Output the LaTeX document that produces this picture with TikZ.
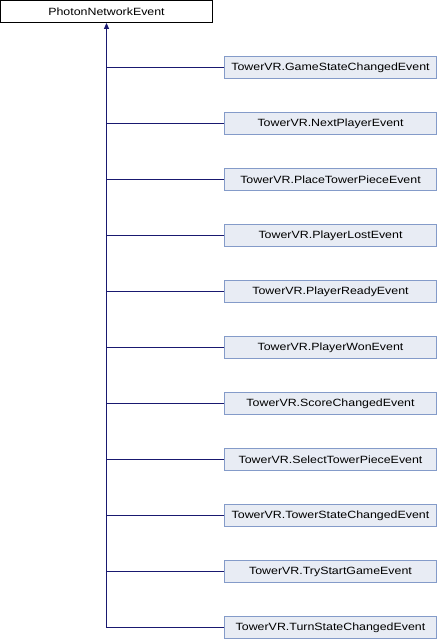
\documentclass[tikz,border=0pt]{standalone}
\usepackage{fontspec}
\setmainfont{Liberation Sans}[FakeStretch=1.18]
\usetikzlibrary{arrows.meta}
\definecolor{evfill}{RGB}{232,236,244}
\definecolor{evdraw}{RGB}{132,155,201}
\definecolor{edgecol}{RGB}{25,25,112}

\begin{document}
\begin{tikzpicture}[x=1pt,y=-1pt,font=\fontsize{10.5}{13}\selectfont,
  basebox/.style={draw=black, fill=white, line width=0.8pt, minimum width=212pt, minimum height=22pt, inner sep=0pt},
  evbox/.style={draw=evdraw, fill=evfill, line width=0.8pt, minimum width=212pt, minimum height=22pt, inner sep=0pt},
  edge/.style={draw=edgecol, line width=1pt}]
\useasboundingbox (0,0) rectangle (438,640);
\node[basebox] (base) at (106.5,11.5) {PhotonNetworkEvent};
\foreach \name [count=\i] in {GameStateChangedEvent,NextPlayerEvent,PlaceTowerPieceEvent,PlayerLostEvent,PlayerReadyEvent,PlayerWonEvent,ScoreChangedEvent,SelectTowerPieceEvent,TowerStateChangedEvent,TryStartGameEvent,TurnStateChangedEvent}{
  \node[evbox] (ev\i) at (330.5,{67.5+56*(\i-1)}) {TowerVR.\name};
  \draw[edge] (ev\i.west) -- (ev\i.west -| base.south);
}
\draw[edge, {Triangle[length=6pt,width=5pt]}-] (base.south) -- (base.south |- ev11.west);
\end{tikzpicture}
\end{document}
